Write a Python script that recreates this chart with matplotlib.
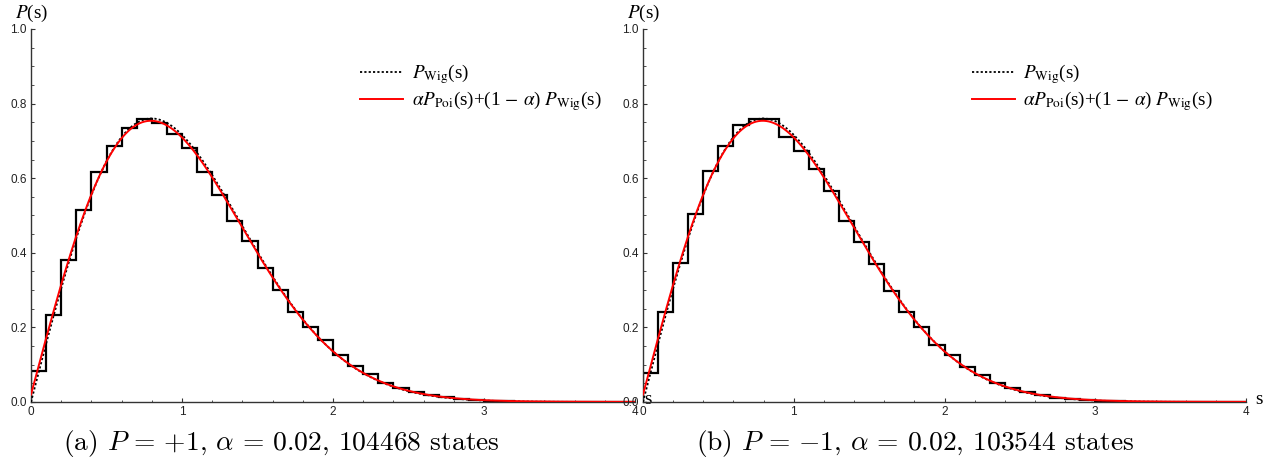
import numpy as np
import matplotlib
matplotlib.use("Agg")
import matplotlib.pyplot as plt
from matplotlib.font_manager import FontProperties
from matplotlib.lines import Line2D
from matplotlib.ticker import MultipleLocator, FormatStrFormatter

plt.rcParams['font.family'] = ['Liberation Sans', 'DejaVu Sans']

# histogram bins, width 0.1 from 0 to 4
bin_edges = np.round(np.arange(0, 4.01, 0.1), 2)

hist_plus = [0.084, 0.233, 0.382, 0.516, 0.617, 0.685, 0.734, 0.759, 0.747, 0.719,
             0.681, 0.617, 0.555, 0.485, 0.431, 0.358, 0.301, 0.240, 0.200, 0.165,
             0.126, 0.097, 0.074, 0.052, 0.038, 0.028, 0.019, 0.013, 0.008, 0.005,
             0.0035, 0.002, 0.0013, 0.0008, 0.0005, 0.0003, 0.0002, 0.0001, 0.0001, 0.0]

hist_minus = [0.079, 0.241, 0.372, 0.505, 0.618, 0.686, 0.742, 0.758, 0.758, 0.710,
              0.673, 0.626, 0.565, 0.486, 0.428, 0.370, 0.298, 0.241, 0.200, 0.153,
              0.125, 0.095, 0.072, 0.052, 0.037, 0.026, 0.018, 0.012, 0.008, 0.005,
              0.0035, 0.002, 0.0013, 0.0008, 0.0005, 0.0003, 0.0002, 0.0001, 0.0001, 0.0]

alpha = 0.02
captions = [r"(a) $P\,=\,{+1}$, $\alpha\,=\,0.02$, 104468 states",
            r"(b) $P\,=\,{-1}$, $\alpha\,=\,0.02$, 103544 states"]
legend_labels = [r"$P_{\rm Wig}$(s)",
                 r"$\alpha P_{\rm Poi}$(s)+(1$\,-\,\alpha$) $P_{\rm Wig}$(s)"]

# theoretical curves named in the legend
s = np.linspace(0, 4, 500)
p_wig = np.pi / 2 * s * np.exp(-np.pi * s**2 / 4)
p_poi = np.exp(-s)
p_mix = alpha * p_poi + (1 - alpha) * p_wig

W, H = 1276, 474
fig = plt.figure(figsize=(W / 100, H / 100), dpi=100)
ax1 = fig.add_axes([31 / W, 72 / H, 604 / W, 373 / H])
ax2 = fig.add_axes([643 / W, 72 / H, 603 / W, 373 / H])

axis_col = '#333333'
serif = FontProperties(family='Liberation Serif', size=13.8, math_fontfamily='stix')

for ax, hist, cap, cx in [(ax1, hist_plus, captions[0], 281), (ax2, hist_minus, captions[1], 915)]:
    ax.stairs(hist, bin_edges, color='black', lw=1.6, baseline=0, zorder=2)
    ax.plot(s, p_wig, color='black', lw=1.3, linestyle=(0, (1.2, 1.2)), zorder=3)
    ax.plot(s, p_mix, color='#ff0000', lw=1.4, zorder=4)

    ax.set_xlim(0, 4)
    ax.set_ylim(0, 1)
    for side in ['top', 'right']:
        ax.spines[side].set_visible(False)
    for side in ['left', 'bottom']:
        ax.spines[side].set_color(axis_col)
        ax.spines[side].set_linewidth(1.0)
    ax.xaxis.set_major_locator(MultipleLocator(1))
    ax.xaxis.set_minor_locator(MultipleLocator(0.2))
    ax.yaxis.set_major_locator(MultipleLocator(0.2))
    ax.yaxis.set_minor_locator(MultipleLocator(0.05))
    ax.xaxis.set_major_formatter(FormatStrFormatter('%d'))
    ax.yaxis.set_major_formatter(FormatStrFormatter('%.1f'))
    ax.tick_params(which='major', direction='in', length=3, width=0.8, color=axis_col,
                   labelsize=8.5, labelcolor='#222222', pad=3)
    ax.tick_params(which='minor', direction='in', length=1.8, width=0.6, color=axis_col)
    ax.set_facecolor('none')

    ax.annotate('$P$(s)', xy=(0, 1), xycoords='axes fraction', xytext=(0, 16),
                textcoords='offset pixels', ha='center', va='center', fontproperties=serif,
                annotation_clip=False)
    ax.annotate('s', xy=(1, 0), xycoords='axes fraction', xytext=(9, 2),
                textcoords='offset pixels', ha='left', va='center', fontproperties=serif,
                annotation_clip=False)

    handles = [Line2D([], [], color='black', lw=1.3, linestyle=(0, (1.2, 1.2))),
               Line2D([], [], color='#ff0000', lw=1.4)]
    ax.legend(handles, legend_labels, loc='upper left', bbox_to_anchor=(0.545, 0.91),
              frameon=False, prop=serif, handlelength=2.25, handletextpad=0.45,
              borderaxespad=0, borderpad=0, labelspacing=0.15)

    fig.text(cx / W, (H - 450) / H, cap, ha='center', va='baseline', fontsize=19.8,
             family='cmr10', math_fontfamily='cm')

fig.savefig('out.png', dpi=100)
